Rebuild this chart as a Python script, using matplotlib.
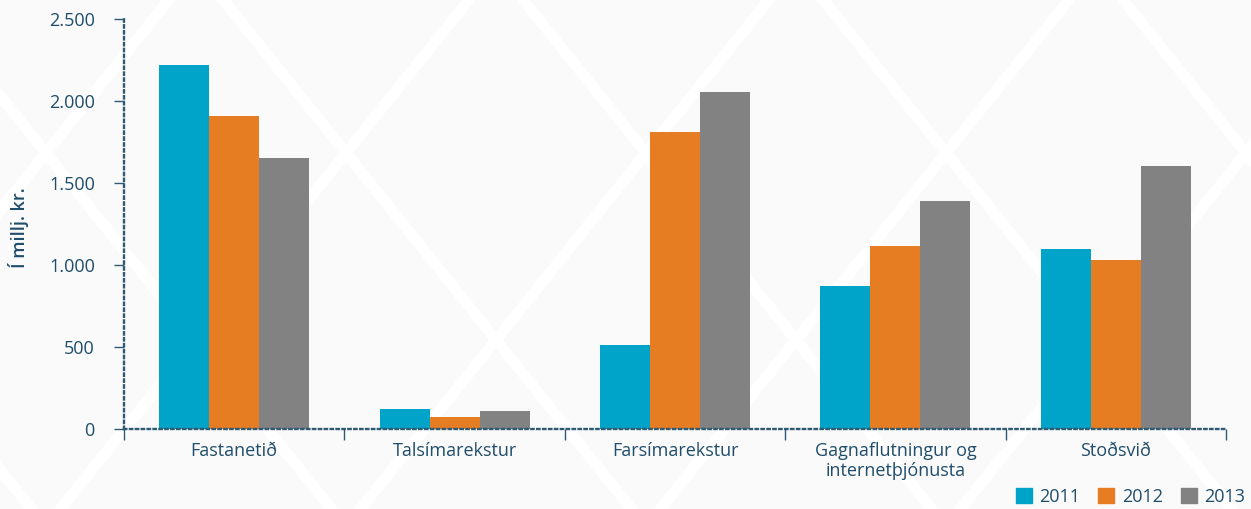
import numpy as np
import matplotlib
matplotlib.use("Agg")
import matplotlib.pyplot as plt
from matplotlib.lines import Line2D
from matplotlib.patches import Patch

categories = ["Fastanetið", "Talsímarekstur", "Farsímarekstur",
              "Gagnaflutningur og\ninternetþjónusta", "Stoðsvið"]
years = ["2011", "2012", "2013"]
v2011 = [2220, 122, 512, 872, 1098]
v2012 = [1910, 73, 1811, 1116, 1031]
v2013 = [1653, 110, 2055, 1390, 1604]
yticks = [0, 500, 1000, 1500, 2000, 2500]
ytick_labels = ["0", "500", "1.000", "1.500", "2.000", "2.500"]

colors = ["#00a4c8", "#e77d23", "#828282"]
txt = "#1f4d6b"
W, H = 1251, 509

plt.rcParams['font.family'] = ['Open Sans', 'DejaVu Sans']

fig = plt.figure(figsize=(W / 100, H / 100), dpi=100)
fig.patch.set_facecolor("#fafafa")

# faint white diamond lattice in the background (pixel coords, y down)
for k in range(-4, 8):
    x0, y0 = 346 + 300 * k, 153
    for s in (1, -1):
        xs = np.array([x0 - s * 150 * 3, x0 + s * 150 * 3])
        ys = np.array([y0 - 187 * 3, y0 + 187 * 3])
        fig.add_artist(Line2D(xs / W, 1 - ys / H, color="white", lw=8,
                              transform=fig.transFigure, zorder=0))

ax = fig.add_axes([124 / W, 80 / H, (1226 - 124) / W, 410 / H])
ax.set_facecolor("none")

x = np.arange(len(categories))
bw = 0.227
for i, vals in enumerate([v2011, v2012, v2013]):
    ax.bar(x + (i - 1) * bw, vals, width=bw, color=colors[i], zorder=2)

ax.set_xlim(-0.5, len(categories) - 0.5)
ax.set_ylim(0, 2500)

for side in ("top", "right"):
    ax.spines[side].set_visible(False)
for side in ("left", "bottom"):
    ax.spines[side].set_linestyle((0, (1, 1.5)))
    ax.spines[side].set_linewidth(1.7)
    ax.spines[side].set_color("#2e5a73")
    ax.spines[side].set_zorder(3)

ax.set_yticks(yticks)
ax.set_yticklabels(ytick_labels)
ax.tick_params(axis="y", length=7, width=1, color="#2e5a73", pad=14,
               labelsize=13, labelcolor=txt)

ax.set_xticks(x)
ax.set_xticklabels(categories, linespacing=1.15)
ax.tick_params(axis="x", which="major", length=0, pad=9, labelsize=13,
               labelcolor=txt)
ax.set_xticks(np.arange(len(categories) + 1) - 0.5, minor=True)
ax.tick_params(axis="x", which="minor", length=8, width=1, color="#2e5a73")

ax.set_ylabel("Í millj. kr.", fontsize=13, color=txt, fontweight="semibold")
ax.yaxis.set_label_coords(-0.086, 0.49)

handles = [Patch(color=c) for c in colors]
fig.legend(handles, years, loc="lower right", bbox_to_anchor=(1.004, -0.015),
           ncol=3, frameon=False, fontsize=13, labelcolor=txt,
           handlelength=0.9, handleheight=0.9, handletextpad=0.4,
           columnspacing=1.0, borderaxespad=0.2)

fig.savefig("out.png", dpi=100, facecolor=fig.get_facecolor())
